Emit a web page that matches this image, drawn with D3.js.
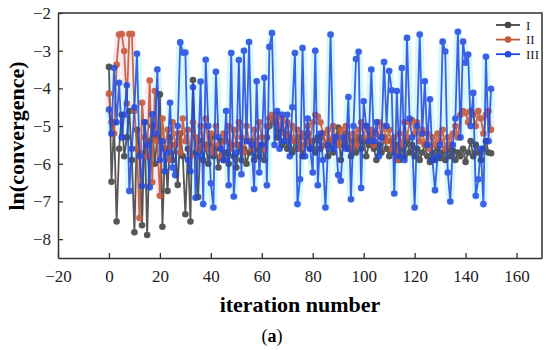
<!DOCTYPE html>
<html>
<head>
<meta charset="utf-8">
<script src="https://cdn.jsdelivr.net/npm/d3@7"></script>
<style>
  body { margin: 0; background: #fff; }
  text { font-family: "Liberation Serif", "Times New Roman", serif; }
</style>
</head>
<body>
<div id="chart"></div>
<script>
// ln(convergence) per iteration
var seriesI = [
  -3.43, -6.48, -4.9, -7.53, -5.6, -4.7, -5.8, -5.3, -4.6, -5.9,
  -7.82, -5.1, -5.7, -7.63, -4.9, -7.89, -5.4, -5.0, -6.0, -5.3,
  -4.16, -7.67, -5.6, -6.72, -5.3, -5.9, -5.5, -6.56, -5.2, -5.8,
  -7.34, -5.6, -7.53, -3.78, -5.7, -6.88, -5.4, -5.9, -5.5, -6.0,
  -5.3, -5.8, -5.6, -6.1, -5.4, -5.9, -5.7, -6.0, -5.5, -5.8,
  -6.1, -5.5, -5.9, -5.6, -6.0, -5.7, -5.4, -5.9, -5.6, -5.8,
  -5.5, -5.9, -5.3, -5.0, -4.8, -4.9, -5.3, -5.1, -5.5, -5.2,
  -5.6, -5.3, -5.7, -5.4, -5.6, -5.3, -5.8, -5.5, -5.2, -5.6,
  -5.4, -5.7, -5.3, -5.6, -5.2, -5.5, -5.8, -5.4, -5.7, -5.3,
  -5.04, -5.9, -5.5, -5.2, -5.6, -5.8, -5.4, -5.7, -5.3, -5.6,
  -5.4, -5.8, -5.5, -5.2, -5.6, -5.9, -5.5, -5.7, -5.3, -5.6,
  -5.8, -5.4, -5.7, -5.5, -5.9, -5.6, -5.8, -5.4, -5.7, -5.5,
  -5.8, -5.6, -5.9, -5.7, -5.5, -5.8, -5.95, -5.7, -5.9, -5.6,
  -5.85, -5.7, -5.9, -5.6, -5.8, -5.65, -5.9, -5.7, -5.8, -5.6,
  -5.95, -5.7, -5.4, -5.8, -5.5, -5.7, -5.9, -5.6, -5.4, -5.7,
  -5.72
];
var seriesII = [
  -4.14, -4.9, -5.2, -3.37, -2.57, -2.56, -3.01, -4.4, -2.56, -2.56,
  -4.6, -5.6, -7.44, -4.38, -5.3, -5.8, -3.79, -6.49, -4.07, -5.4,
  -6.85, -4.8, -5.6, -5.1, -5.9, -4.9, -5.5, -5.2, -5.7, -4.8,
  -5.4, -5.1, -5.8, -4.9, -5.3, -5.6, -5.0, -5.5, -4.8, -5.6,
  -5.2, -5.7, -5.0, -5.5, -5.8, -5.2, -5.4, -5.0, -5.6, -5.1,
  -5.5, -4.9, -5.3, -5.7, -5.0, -5.4, -5.6, -5.1, -5.5, -4.9,
  -5.3, -5.6, -5.0, -4.8, -4.7, -4.9, -4.7, -5.0, -4.8, -5.2,
  -4.9, -5.3, -5.0, -5.4, -5.1, -5.6, -5.2, -5.5, -5.0, -5.4,
  -4.9, -4.7, -4.75, -4.9, -5.2, -5.5, -5.1, -5.4, -5.0, -5.3,
  -5.5, -5.1, -5.4, -5.0, -5.3, -5.6, -5.2, -5.5, -5.1, -4.9,
  -5.3, -5.0, -5.4, -5.1, -5.5, -5.2, -4.9, -5.3, -5.0, -5.4,
  -5.1, -5.6, -5.3, -5.9, -5.2, -5.5, -4.9, -5.3, -4.9, -4.85,
  -5.2, -4.9, -5.4, -5.1, -5.5, -5.2, -5.6, -5.3, -5.5, -5.2,
  -5.4, -5.1, -5.6, -5.3, -5.5, -5.2, -5.0, -5.3, -4.7, -4.6,
  -4.65, -4.9, -4.6, -4.7, -5.0, -4.6, -4.8, -5.2, -4.7, -4.6,
  -5.1
];
var seriesIII = [
  -4.56, -5.2, -3.46, -4.9, -3.85, -5.3, -4.7, -3.92, -6.72, -5.6,
  -4.5, -3.08, -5.8, -6.59, -4.9, -5.5, -6.62, -4.69, -5.2, -3.5,
  -5.9, -5.4, -6.2, -5.7, -4.38, -6.1, -6.3, -5.0, -2.78, -3.05,
  -3.05, -5.9, -6.2, -3.97, -6.9, -5.8, -3.82, -7.07, -3.24, -5.0,
  -6.52, -7.16, -3.56, -5.3, -5.6, -5.9, -4.6, -6.57, -3.06, -6.87,
  -5.7, -3.25, -6.28, -3.0, -5.4, -2.77, -5.5, -6.67, -3.81, -6.23,
  -5.5, -3.72, -6.57, -2.9, -2.53, -5.5, -4.6, -5.6, -4.7, -5.4,
  -4.7, -5.8, -4.5, -3.06, -7.07, -6.41, -2.93, -5.8, -4.8, -5.6,
  -6.23, -3.0, -6.57, -5.2, -5.9, -7.16, -5.5, -2.57, -5.6, -5.3,
  -6.3, -6.45, -5.3, -5.6, -4.23, -6.94, -5.0, -3.22, -3.03, -6.64,
  -4.34, -5.0, -5.4, -3.5, -5.4, -4.9, -5.8, -5.3, -3.3, -5.0,
  -3.54, -4.05, -6.79, -4.07, -5.8, -3.46, -5.9, -2.66, -4.8, -5.3,
  -7.16, -5.0, -2.57, -5.2, -3.81, -5.5, -4.29, -5.9, -6.7, -5.8,
  -5.5, -2.76, -3.02, -6.23, -7.0, -5.5, -4.8, -2.5, -5.3, -2.76,
  -3.32, -3.1, -5.0, -4.12, -6.85, -6.41, -5.6, -7.07, -3.16, -5.4,
  -4.01
];
var seriesNames = ["I", "II", "III"];
var seriesColors = ["#454545", "#c45a3a", "#2248e0"];
var haloColors = [null, "#fde6ee", "#d4f8fc"];
var xTicks = [-20, 0, 20, 40, 60, 80, 100, 120, 140, 160];
var yTicks = [-8, -7, -6, -5, -4, -3, -2];

var svgWidth = 550;
var svgHeight = 350;
var margin = { top: 13, right: 8, bottom: 92, left: 58 };
var width = svgWidth - margin.left - margin.right;
var height = svgHeight - margin.top - margin.bottom;

var svg = d3.select("#chart")
  .append("svg")
  .attr("width", svgWidth)
  .attr("height", svgHeight);

var chartGroup = svg.append("g")
  .attr("transform", `translate(${margin.left}, ${margin.top})`);

var x = d3.scaleLinear().domain([-20, 170]).range([0, width]);
var y = d3.scaleLinear().domain([-8.5, -2]).range([height, 0]);

// frame on top and right
chartGroup.append("path")
  .attr("d", `M0,0H${width}V${height}`)
  .attr("fill", "none")
  .attr("stroke", "#333")
  .attr("stroke-width", 1.5);

var series = [seriesI, seriesII, seriesIII];
var line = d3.line().x((d, i) => x(i)).y(d => y(d));

// soft halos go underneath everything
var haloGroup = chartGroup.append("g");
series.forEach(function(vals, k) {
  if (!haloColors[k]) return;
  haloGroup.append("path")
    .datum(vals)
    .attr("d", line)
    .attr("fill", "none")
    .attr("stroke", haloColors[k])
    .attr("stroke-width", 8)
    .attr("stroke-linejoin", "round");
});

// I, II, then III on top, a bit see-through so they mix
var opac = [0.9, 0.9, 0.86];
series.forEach(function(vals, k) {
  var g = chartGroup.append("g").attr("opacity", opac[k]);
  g.append("path")
    .datum(vals)
    .attr("d", line)
    .attr("fill", "none")
    .attr("stroke", seriesColors[k])
    .attr("stroke-width", 1.8);
  g.selectAll("circle")
    .data(vals)
    .enter()
    .append("circle")
    .attr("cx", (d, i) => x(i))
    .attr("cy", d => y(d))
    .attr("r", 3.3)
    .attr("fill", seriesColors[k]);
});

// axes
var bottomAxis = d3.axisBottom(x).tickValues(xTicks).tickSizeInner(-5).tickSizeOuter(0)
  .tickFormat(d3.format("d"));
var leftAxis = d3.axisLeft(y).tickValues(yTicks).tickSizeInner(-5).tickSizeOuter(0)
  .tickFormat(d3.format("d"));

var xAxisG = chartGroup.append("g")
  .attr("transform", `translate(0, ${height})`)
  .call(bottomAxis);
var yAxisG = chartGroup.append("g").call(leftAxis);

[xAxisG, yAxisG].forEach(function(g) {
  g.select(".domain").attr("stroke", "#333").attr("stroke-width", 1.5);
  g.selectAll(".tick line").attr("stroke", "#333").attr("stroke-width", 1.3);
  g.selectAll(".tick text")
    .attr("font-family", "Liberation Serif, serif")
    .attr("font-size", 17)
    .attr("fill", "#222");
});
xAxisG.selectAll(".tick text").attr("y", 12);
yAxisG.selectAll(".tick text").attr("x", -7);

// legend
var legend = chartGroup.append("g")
  .attr("transform", `translate(${width - 46}, 12)`);
seriesNames.forEach(function(name, k) {
  var row = legend.append("g").attr("transform", `translate(0, ${k * 14.6})`);
  row.append("line")
    .attr("x1", 0).attr("x2", 24).attr("y1", 0).attr("y2", 0)
    .attr("stroke", seriesColors[k]).attr("stroke-width", 1.8);
  row.append("circle").attr("cx", 12).attr("cy", 0).attr("r", 3.3)
    .attr("fill", seriesColors[k]);
  row.append("text")
    .attr("x", 30).attr("y", 4.5)
    .attr("font-size", 13)
    .attr("fill", "#222")
    .text(name);
});

// axis titles
svg.append("text")
  .attr("transform", "translate(24, 136) rotate(-90)")
  .attr("text-anchor", "middle")
  .attr("font-size", 22)
  .attr("font-weight", "bold")
  .text("ln(convergence)");

svg.append("text")
  .attr("x", 300)
  .attr("y", 312)
  .attr("text-anchor", "middle")
  .attr("font-size", 22)
  .attr("font-weight", "bold")
  .text("iteration number");

var cap = svg.append("text")
  .attr("x", 272)
  .attr("y", 342)
  .attr("text-anchor", "middle")
  .attr("font-size", 18);
cap.append("tspan").text("(");
cap.append("tspan").attr("font-weight", "bold").text("a");
cap.append("tspan").text(")");
</script>
</body>
</html>
